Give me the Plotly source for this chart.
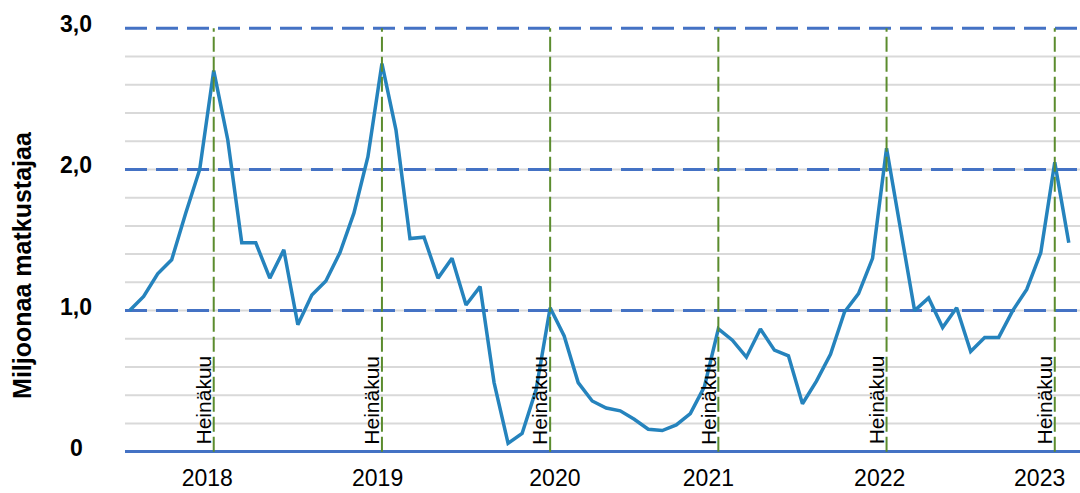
import plotly.graph_objects as go

# Monthly passengers, Jan 2018 - Aug 2023 (millions)
passengers = [
    1.00, 1.10, 1.26, 1.36, 1.69, 2.00, 2.70, 2.21, 1.48, 1.48, 1.23, 1.43,
    0.90, 1.11, 1.21, 1.41, 1.69, 2.09, 2.75, 2.28, 1.51, 1.52, 1.23, 1.37,
    1.04, 1.17, 0.49, 0.06, 0.13, 0.44, 1.02, 0.82, 0.49, 0.36, 0.31, 0.29,
    0.23, 0.16, 0.15, 0.19, 0.27, 0.46, 0.87, 0.79, 0.67, 0.87, 0.72, 0.68,
    0.34, 0.50, 0.69, 0.99, 1.12, 1.37, 2.15, 1.58, 1.00, 1.09, 0.88, 1.02,
    0.71, 0.81, 0.81, 1.00, 1.15, 1.41, 2.05, 1.48,
]
month_idx = list(range(len(passengers)))

years = ["2018", "2019", "2020", "2021", "2022", "2023"]
year_label_pos = [5.54, 17.69, 30.34, 41.29, 53.51, 64.92]
july_idx = [6, 18, 30, 42, 54, 66]
july_label = "Heinäkuu"

y_major = [0, 1, 2, 3]
y_major_text = ["0", "1,0", "2,0", "3,0"]
y_minor = [round(0.2 * k, 1) for k in range(1, 15)]
y_title = "Miljoonaa matkustajaa"

BLUE = "#4472C4"
GREEN = "#5B8C2E"
LINE = "#2583BD"
FONT = "Liberation Sans"

fig = go.Figure()
fig.add_trace(go.Scatter(
    x=month_idx, y=passengers, mode="lines",
    line=dict(color=LINE, width=3.5), showlegend=False, hoverinfo="skip",
))

# light grid every 0.2
for v in y_minor:
    fig.add_shape(type="line", xref="paper", x0=0, x1=1, yref="y", y0=v, y1=v,
                  line=dict(color="#D9D9D9", width=2), layer="below")

# dashed major lines at 1, 2, 3
for v in y_major[1:]:
    fig.add_shape(type="line", xref="paper", x0=0, x1=1, yref="y", y0=v, y1=v,
                  line=dict(color=BLUE, width=3, dash="22px,9px"), layer="below")

# July markers
for m in july_idx:
    fig.add_shape(type="line", xref="x", x0=m, x1=m, yref="y", y0=0, y1=3,
                  line=dict(color=GREEN, width=2, dash="15px,5px"), layer="above")
    fig.add_annotation(x=m, y=0, xref="x", yref="y", text=july_label, textangle=-90,
                       showarrow=False, xanchor="right", yanchor="bottom",
                       xshift=3, yshift=5, font=dict(family=FONT, size=21, color="black"))

# y labels, centered like the original
for v, t in zip(y_major, y_major_text):
    fig.add_annotation(x=-0.051, xref="paper", y=v, yref="y", text=t, showarrow=False,
                       xanchor="center", yanchor="middle", yshift=4,
                       font=dict(family=FONT, size=23, color="black", weight="bold"))

fig.add_annotation(x=-0.108, xref="paper", y=0.442, yref="paper", text=y_title,
                   textangle=-90, showarrow=False, xanchor="center", yanchor="middle",
                   font=dict(family=FONT, size=25, color="black", weight="bold"))

fig.update_layout(
    width=1080, height=493,
    margin=dict(l=125, r=0, t=24, b=37),
    plot_bgcolor="white", paper_bgcolor="white",
    xaxis=dict(
        range=[-0.33, 67.8], tickvals=year_label_pos, ticktext=years,
        showgrid=False, zeroline=False, showline=False, ticks="",
        tickfont=dict(family=FONT, size=23, color="black"), ticklabelstandoff=6,
    ),
    yaxis=dict(
        range=[-0.03, 3.03], showticklabels=False, showgrid=False,
        zeroline=True, zerolinecolor=BLUE, zerolinewidth=3, showline=False,
    ),
)

fig.write_html("out.html", config={"displayModeBar": False},
               post_script="document.body.style.margin='0';")
